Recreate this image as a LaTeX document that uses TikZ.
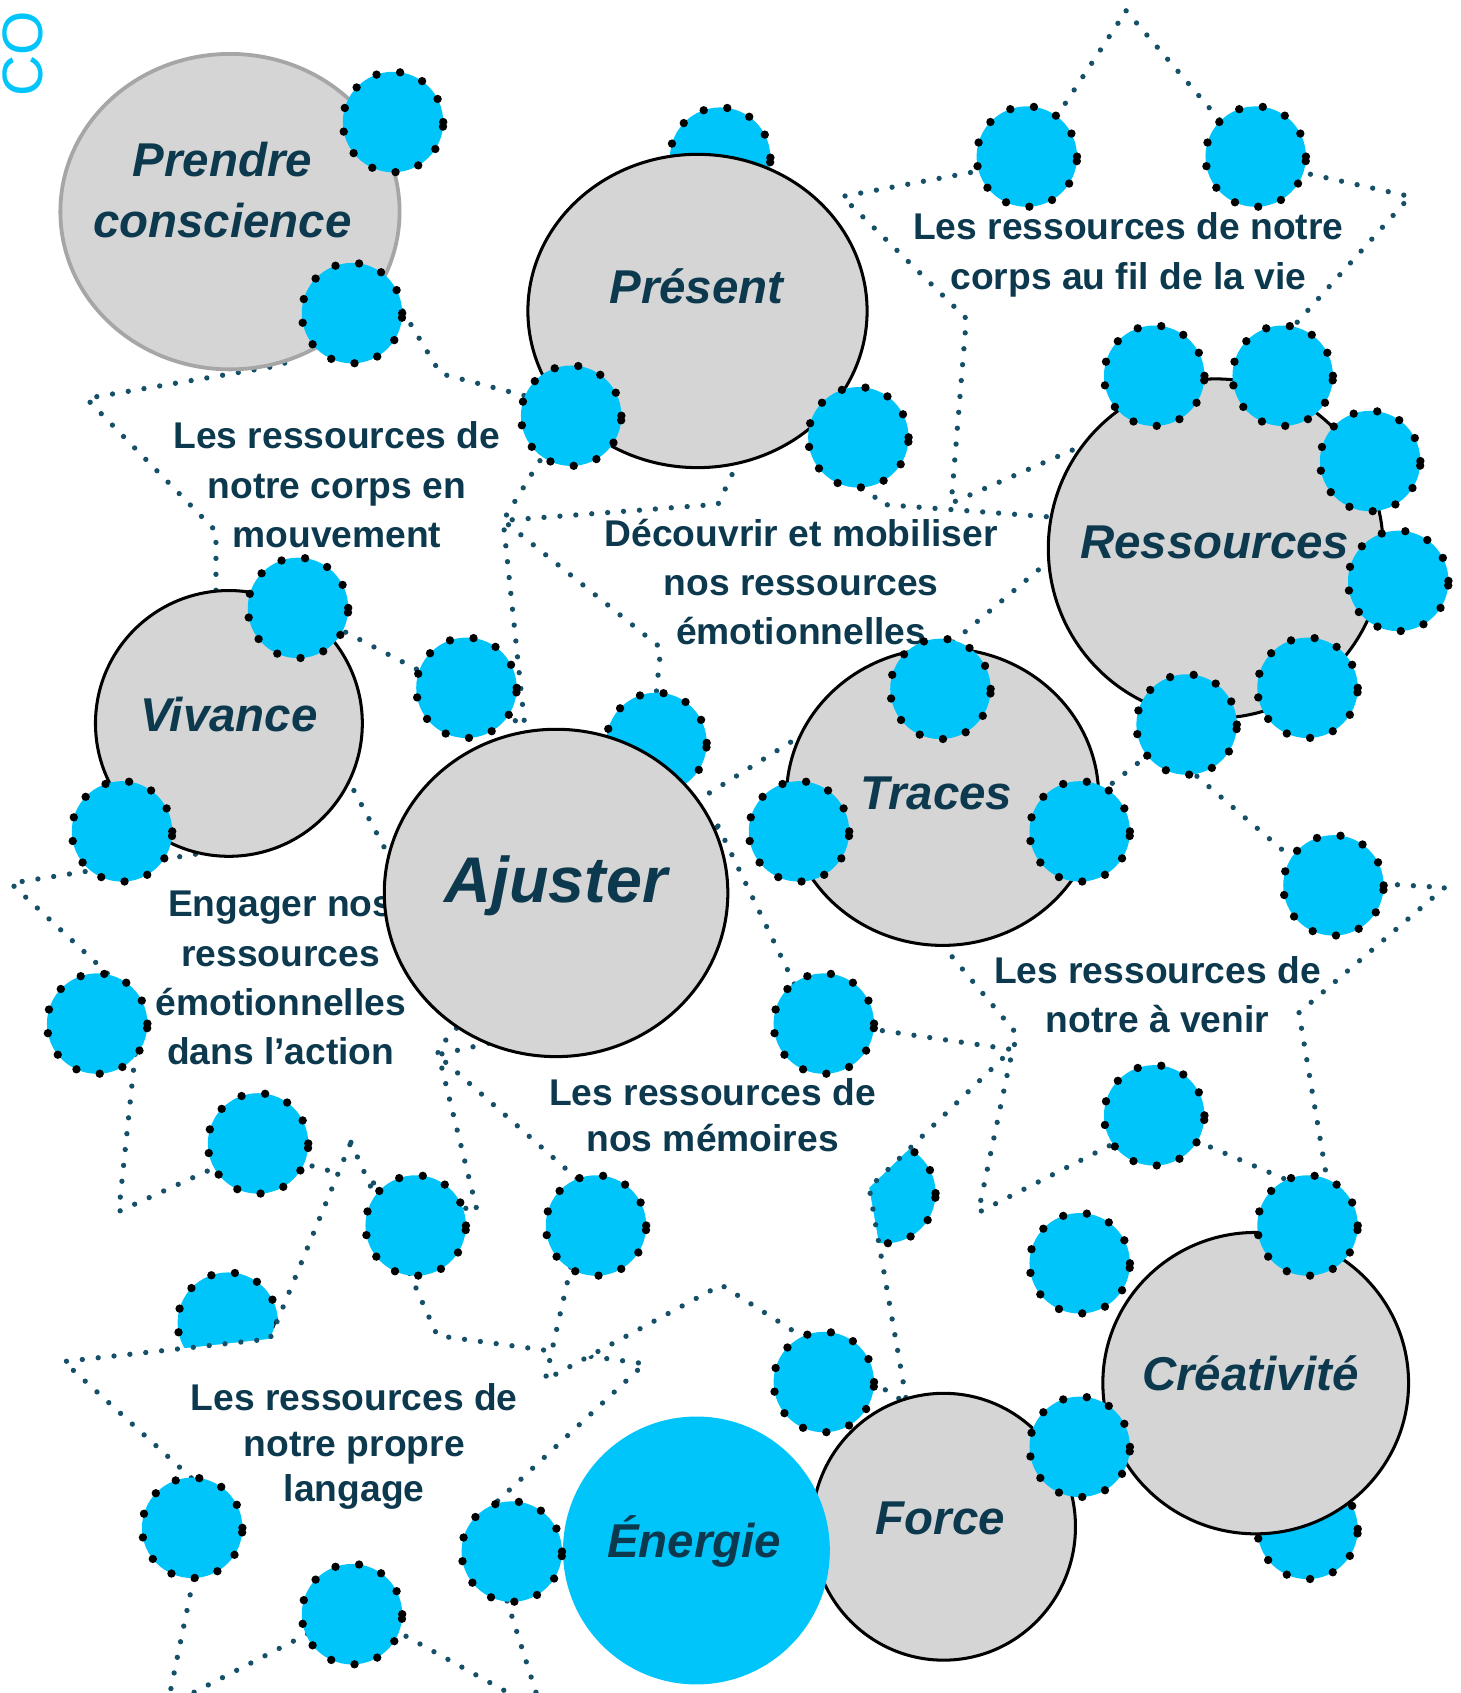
\documentclass[tikz,border=0pt]{standalone}
\usepackage{fontspec}
\setmainfont{Liberation Sans}
\usepackage{tikz}
\usetikzlibrary{shapes.geometric}

\definecolor{sky}{RGB}{0,197,250}
\definecolor{ink}{RGB}{13,57,78}
\definecolor{starink}{RGB}{22,80,104}
\definecolor{ballgrey}{RGB}{213,213,213}
\definecolor{rimgrey}{RGB}{166,166,166}

\tikzset{
  blob/.style={circle,fill=sky,draw=black,line width=2.2pt,dash pattern=on 0pt off 6.3pt,line cap=round,minimum size=0.93cm,inner sep=0pt},
  ball/.style={ellipse,fill=ballgrey,draw=black,line width=0.8pt,inner sep=0pt},
  balltext/.style={text=ink,font=\bfseries\itshape\fontsize{12.5}{16}\selectfont,align=center},
  starshape/.style={fill=white,draw=starink,line width=1.4pt,dash pattern=on 0pt off 4.2pt,line cap=round},
  startext/.style={text=ink,font=\bfseries\fontsize{9.8}{13}\selectfont,align=center}
}

\begin{document}
\begin{tikzpicture}[x=0.01cm,y=-0.01cm]
    \useasboundingbox (0,0) rectangle (1353,1568);
    \node[text=sky,font=\fontsize{15}{15}\selectfont,rotate=90,inner sep=0pt] (co) at (21,50) {CO};

    \node[blob] (b31) at (211,1225) {};
    \node[blob] (b28) at (820,1105) {};

    \draw[starshape] (1043,10) -- (1163,150) -- (1306,182) -- (1200,300) -- (1180,470) -- (1043,395) -- (881,466) -- (895,295) -- (780,182) -- (951,150) -- cycle;
    \node[startext] (vie) at (1045,236) {Les ressources de notre\\corps au fil de la vie};

    \draw[starshape] (350,250) -- (408,346) -- (530,378) -- (466,482) -- (486,672) -- (300,575) -- (200,610) -- (200,492) -- (80,369) -- (262,338) -- cycle;
    \node[startext] (mouvement) at (312,449) {Les ressources de\\notre corps en\\mouvement};

    \draw[starshape] (725,340) -- (815,467) -- (1016,482) -- (862,612) -- (800,645) -- (640,745) -- (600,720) -- (612,600) -- (466,482) -- (665,467) -- cycle;
    \node[startext] (emotions) at (742,539) {Découvrir et mobiliser\\nos ressources\\émotionnelles};

    \draw[starshape] (300,680) -- (380,830) -- (470,900) -- (405,972) -- (442,1122) -- (235,1065) -- (110,1122) -- (130,930) -- (10,818) -- (220,785) -- cycle;
    \node[startext] (action) at (260,906) {Engager nos\\ressources\\émotionnelles\\dans l’action};

    \draw[starshape] (1075,690) -- (1220,815) -- (1338,822) -- (1203,938) -- (1232,1110) -- (1069,1040) -- (906,1123) -- (935,985) -- (942,958) -- (860,860) -- cycle;
    \node[startext] (avenir) at (1072,921) {Les ressources de\\notre à venir};

    \draw[starshape] (325,1058) -- (405,1237) -- (597,1263) -- (445,1405) -- (502,1585) -- (330,1490) -- (155,1580) -- (195,1385) -- (59,1261) -- (250,1240) -- cycle;
    \node[startext,font=\bfseries\fontsize{9.8}{12}\selectfont] (langage) at (328,1340) {Les ressources de\\notre propre\\langage};

    \draw[starshape] (665,765) -- (752,945) -- (937,972) -- (805,1100) -- (840,1300) -- (668,1190) -- (505,1278) -- (545,1101) -- (405,977) -- (480,960) -- cycle;
    \node[startext,font=\bfseries\fontsize{9.8}{12}\selectfont] (memoires) at (660,1033) {Les ressources de\\nos mémoires};

    \node[blob] (b3) at (667,146) {};
    \node[blob] (b16) at (608,688) {};
    \node[blob] (b34) at (1211,1416) {};

    \node[ball,draw=rimgrey,line width=1pt,minimum width=3.14cm,minimum height=2.92cm] (prendre) at (213,196) {};
    \node[balltext] at (206,176) {Prendre\\conscience};
    \node[ball,minimum width=3.14cm,minimum height=2.9cm] (present) at (646,288) {};
    \node[balltext] at (645,265) {Présent};
    \node[ball,minimum width=3.1cm,minimum height=3.14cm] (ressources) at (1126,508) {};
    \node[balltext] at (1125,502) {Ressources};
    \node[ball,minimum width=2.47cm,minimum height=2.46cm] (vivance) at (212,670) {};
    \node[balltext] at (212,662) {Vivance};
    \node[ball,minimum width=3.18cm,minimum height=3.03cm] (ajuster) at (515,827) {};
    \node[balltext,font=\bfseries\itshape\fontsize{17}{20}\selectfont] at (515,820) {Ajuster};
    \node[ball,minimum width=2.89cm,minimum height=2.75cm] (traces) at (873,738) {};
    \node[balltext] at (867,735) {Traces};
    \node[ball,minimum width=2.44cm,minimum height=2.47cm] (force) at (874,1414) {};
    \node[balltext] at (871,1406) {Force};
    \node[ball,fill=sky,draw=none,minimum width=2.47cm,minimum height=2.48cm] (energie) at (645,1436) {};
    \node[balltext] at (643,1428) {Énergie};
    \node[ball,minimum width=2.83cm,minimum height=2.79cm] (creativite) at (1163,1281) {};
    \node[balltext] at (1158,1272) {Créativité};

    \foreach \n/\x/\y in {b1/364/113,b2/326/290,b4/951/145,b5/1163/145,b6/529/385,b7/795/405,
        b8/1069/348,b9/1188/348,b10/1269/427,b11/1295/538,b12/1211/637,b13/1099/671,
        b14/276/563,b15/432/637,b17/871/638,b18/740/770,b19/1000/770,b20/113/770,
        b21/1235/820,b22/90/948,b23/763/948,b24/1069/1033,b25/239/1059,b26/385/1135,
        b27/552/1135,b29/1211/1135,b30/1000/1170,b32/763/1280,b33/1000/1340,
        b35/178/1415,b36/474/1437,b37/326/1495}
        \node[blob] (\n) at (\x,\y) {};
\end{tikzpicture}
\end{document}
